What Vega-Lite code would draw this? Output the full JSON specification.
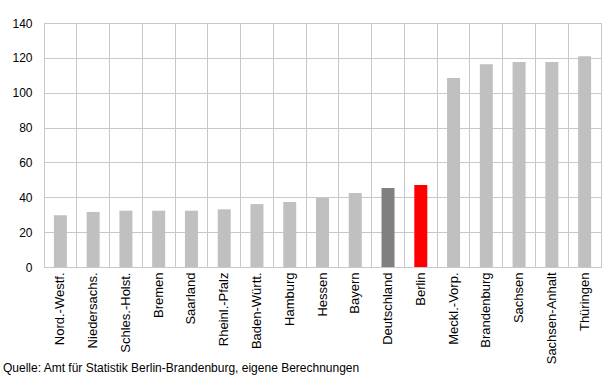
{
  "$schema": "https://vega.github.io/schema/vega-lite/v6.json",
  "width": 557,
  "height": 244,
  "autosize": {"type": "none"},
  "padding": {"left": 44, "top": 23, "right": 3, "bottom": 109},
  "background": "white",
  "data": {
    "values": [
      {"land": "Nord.-Westf.", "wert": 29.7, "typ": "land"},
      {"land": "Niedersachs.", "wert": 31.6, "typ": "land"},
      {"land": "Schles.-Holst.", "wert": 32.3, "typ": "land"},
      {"land": "Bremen", "wert": 32.3, "typ": "land"},
      {"land": "Saarland", "wert": 32.3, "typ": "land"},
      {"land": "Rheinl.-Pfalz", "wert": 33.1, "typ": "land"},
      {"land": "Baden-Württ.", "wert": 36.1, "typ": "land"},
      {"land": "Hamburg", "wert": 37.3, "typ": "land"},
      {"land": "Hessen", "wert": 39.8, "typ": "land"},
      {"land": "Bayern", "wert": 42.5, "typ": "land"},
      {"land": "Deutschland", "wert": 45.3, "typ": "bund"},
      {"land": "Berlin", "wert": 47.0, "typ": "berlin"},
      {"land": "Meckl.-Vorp.", "wert": 108.4, "typ": "land"},
      {"land": "Brandenburg", "wert": 116.3, "typ": "land"},
      {"land": "Sachsen", "wert": 117.6, "typ": "land"},
      {"land": "Sachsen-Anhalt", "wert": 117.6, "typ": "land"},
      {"land": "Thüringen", "wert": 120.9, "typ": "land"}
    ]
  },
  "title": {
    "text": "Quelle: Amt für Statistik Berlin-Brandenburg, eigene Berechnungen",
    "orient": "bottom",
    "anchor": "start",
    "frame": "group",
    "dx": -41,
    "offset": -1,
    "font": "Liberation Sans",
    "fontSize": 12,
    "fontWeight": "normal",
    "color": "#000000"
  },
  "mark": {"type": "bar", "width": 13},
  "encoding": {
    "x": {
      "field": "land",
      "type": "nominal",
      "sort": null,
      "scale": {"paddingInner": 0, "paddingOuter": 0},
      "axis": {
        "title": null,
        "labelAngle": -90,
        "labelAlign": "right",
        "labelBaseline": "middle",
        "labelPadding": 5,
        "labelFont": "Liberation Sans",
        "labelFontSize": 13,
        "labelColor": "#000000",
        "labelOverlap": false,
        "ticks": false,
        "grid": true,
        "gridColor": "#c8c8c8",
        "gridWidth": 1,
        "bandPosition": 0,
        "domain": true,
        "domainColor": "#c8c8c8"
      }
    },
    "y": {
      "field": "wert",
      "type": "quantitative",
      "scale": {"domain": [0, 140]},
      "axis": {
        "title": null,
        "values": [0, 20, 40, 60, 80, 100, 120, 140],
        "labelFont": "Liberation Sans",
        "labelFontSize": 12,
        "labelColor": "#000000",
        "labelPadding": 12,
        "ticks": false,
        "domain": false,
        "gridColor": "#c8c8c8",
        "gridWidth": 1
      }
    },
    "color": {
      "field": "typ",
      "type": "nominal",
      "scale": {"domain": ["land", "bund", "berlin"], "range": ["#c0c0c0", "#808080", "#ff0000"]},
      "legend": null
    }
  },
  "config": {
    "view": {"stroke": "#c8c8c8", "strokeWidth": 1}
  }
}
